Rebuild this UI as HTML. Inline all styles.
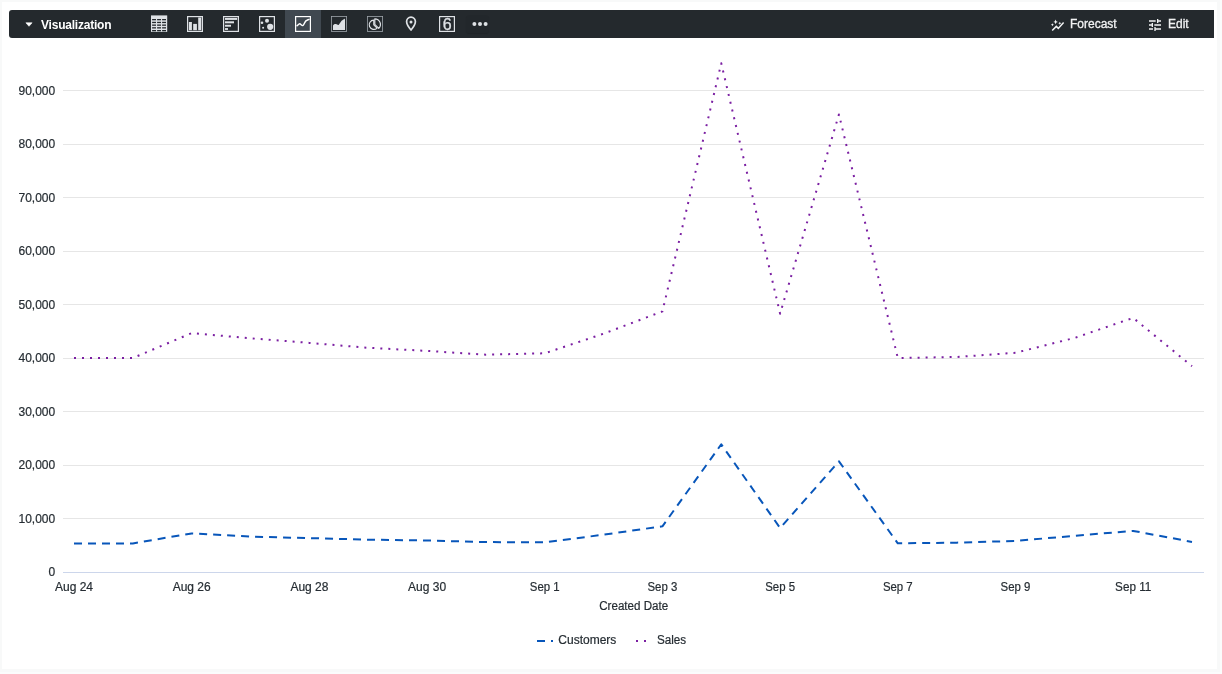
<!DOCTYPE html>
<html lang="en">
<head>
<meta charset="utf-8">
<title>Visualization</title>
<style>
html,body{margin:0;padding:0;}
body{width:1222px;height:674px;overflow:hidden;background:#f8f9f9;font-family:"Liberation Sans",sans-serif;position:relative;}
.edge-r{position:absolute;left:1220px;top:0;width:2px;height:674px;background:#fbfcfc;}
.edge-b{position:absolute;left:0;top:672px;width:1222px;height:2px;background:#fbfcfc;}
.panel{position:absolute;left:2px;top:2px;width:1215px;height:667px;background:#fff;}
.bar{position:absolute;left:9px;top:10px;width:1205px;height:28px;background:#24292d;border-radius:3px 0 0 3px;color:#fff;}
.title{position:absolute;left:32px;top:1px;height:28px;line-height:28px;font-size:12px;font-weight:bold;letter-spacing:-0.22px;color:#fff;white-space:nowrap;}
.caret{position:absolute;left:16px;top:12px;width:8px;height:5px;}
.ico{position:absolute;top:0;width:36px;height:28px;}
.ico svg{position:absolute;left:10px;top:6px;width:16px;height:16px;overflow:visible;}
.ico.on{background:#404850;}
.btn{position:absolute;top:0;height:28px;line-height:28px;font-size:12px;color:#f1f2f3;white-space:nowrap;-webkit-text-stroke:0.3px #f1f2f3;}
svg text{font-family:"Liberation Sans",sans-serif;}
</style>
</head>
<body>
<div class="edge-r"></div><div class="edge-b"></div>
<div class="panel"></div>
<div class="bar">
  <svg class="caret" viewBox="0 0 8 5"><path d="M0.9 0.8H7.1L4 4.3Z" fill="#fff" stroke="#fff" stroke-width="0.6" stroke-linejoin="round"/></svg>
  <div class="title">Visualization</div>
  <div class="ico" style="left:132px;"><svg viewBox="0 0 16 16"><rect x="0" y="-0.6" width="16.2" height="16.5" fill="#dee1e5"/><rect x="1.1" y="3.0" width="3.9" height="1.3" fill="#24292d"/><rect x="6.1" y="3.0" width="3.9" height="1.3" fill="#24292d"/><rect x="11.1" y="3.0" width="3.9" height="1.3" fill="#24292d"/><rect x="1.1" y="5.8" width="3.9" height="1.3" fill="#24292d"/><rect x="6.1" y="5.8" width="3.9" height="1.3" fill="#24292d"/><rect x="11.1" y="5.8" width="3.9" height="1.3" fill="#24292d"/><rect x="1.1" y="8.5" width="3.9" height="1.3" fill="#24292d"/><rect x="6.1" y="8.5" width="3.9" height="1.3" fill="#24292d"/><rect x="11.1" y="8.5" width="3.9" height="1.3" fill="#24292d"/><rect x="1.1" y="11.2" width="3.9" height="1.3" fill="#24292d"/><rect x="6.1" y="11.2" width="3.9" height="1.3" fill="#24292d"/><rect x="11.1" y="11.2" width="3.9" height="1.3" fill="#24292d"/><rect x="1.1" y="14.0" width="3.9" height="1.3" fill="#24292d"/><rect x="6.1" y="14.0" width="3.9" height="1.3" fill="#24292d"/><rect x="11.1" y="14.0" width="3.9" height="1.3" fill="#24292d"/></svg></div>
<div class="ico" style="left:168px;"><svg viewBox="0 0 16 16"><rect x="0.6" y="0.6" width="14.8" height="14.8" fill="none" stroke="#dee1e5" stroke-width="1.2"/><rect x="1.9" y="6" width="3" height="8.2" fill="#dee1e5"/><rect x="6.2" y="7.9" width="3.7" height="6.3" fill="#dee1e5"/><rect x="11.2" y="1.5" width="3" height="12.7" fill="#dee1e5"/></svg></div>
<div class="ico" style="left:204px;"><svg viewBox="0 0 16 16"><rect x="0.6" y="0.6" width="14.8" height="14.8" fill="none" stroke="#dee1e5" stroke-width="1.2"/><rect x="2" y="1.9" width="12.2" height="2" fill="#dee1e5"/><rect x="2" y="5.3" width="9" height="2" fill="#dee1e5"/><rect x="2" y="8.8" width="6" height="1.9" fill="#dee1e5"/><rect x="2" y="12.1" width="3" height="1.8" fill="#dee1e5"/></svg></div>
<div class="ico" style="left:240px;"><svg viewBox="0 0 16 16"><rect x="0.6" y="0.6" width="14.8" height="14.8" fill="none" stroke="#dee1e5" stroke-width="1.2"/><circle cx="11.2" cy="10.8" r="3.1" fill="#dee1e5"/><circle cx="8" cy="4.8" r="2" fill="#dee1e5"/><circle cx="3" cy="6.7" r="1.3" fill="#dee1e5"/><circle cx="4.1" cy="11.7" r="1" fill="#dee1e5"/></svg></div>
<div class="ico on" style="left:276px;"><svg viewBox="0 0 16 16"><rect x="0.6" y="0.6" width="14.8" height="14.8" fill="none" stroke="#fff" stroke-width="1.2"/><path d="M2.1 9.7C3 9 3.8 7.9 4.7 7.8S6.8 9.9 7.8 9.6S9.8 5.8 10.9 4.9S13 3.8 14 3.3" fill="none" stroke="#fff" stroke-width="1.5" stroke-linecap="round" stroke-linejoin="round"/></svg></div>
<div class="ico" style="left:312px;"><svg viewBox="0 0 16 16"><rect x="0.4" y="0.4" width="15.2" height="15.2" fill="none" stroke="#9ea4aa" stroke-width="0.8"/><path d="M2 14V9.6C3 8.3 4 7.9 5 8.1S6.8 9.3 7.6 8.9L10.6 4.8C11.6 3.6 13 3.4 14 2.4V14Z" fill="#dee1e5"/></svg></div>
<div class="ico" style="left:348px;"><svg viewBox="0 0 16 16"><rect x="0.4" y="0.4" width="15.2" height="15.2" fill="none" stroke="#9ea4aa" stroke-width="0.8"/><path d="M6.80 8.80V4.20A4.60 4.60 0 1 0 10.05 12.05Z" fill="none" stroke="#dee1e5" stroke-width="1.2" stroke-linejoin="round"/><path d="M7.80 8.40V2.80A5.60 5.60 0 0 1 11.76 12.36Z" fill="none" stroke="#dee1e5" stroke-width="1.2" stroke-linejoin="round"/></svg></div>
<div class="ico" style="left:384px;"><svg viewBox="0 0 16 16"><path d="M8 1.2C5.3 1.2 3.6 3.2 3.6 5.6C3.6 8.6 6.6 12.4 8 14C9.4 12.4 12.4 8.6 12.4 5.6C12.4 3.2 10.7 1.2 8 1.2Z" fill="none" stroke="#dee1e5" stroke-width="1.7" stroke-linejoin="round"/><circle cx="8" cy="5.9" r="1.5" fill="#dee1e5"/></svg></div>
<div class="ico" style="left:420px;"><svg viewBox="0 0 16 16"><rect x="0.6" y="0.6" width="14.8" height="14.8" fill="none" stroke="#dee1e5" stroke-width="1.2"/><text x="8.1" y="13.8" text-anchor="middle" font-size="16" fill="#dee1e5" stroke="#dee1e5" stroke-width="0.3">6</text></svg></div>
<div style="position:absolute;left:457px;top:5px;width:23px;height:18px;border-radius:3px;background:rgba(0,0,0,0.03);box-shadow:0 1px 1px rgba(0,0,0,0.12);"></div>
<svg style="position:absolute;left:460px;top:10px;width:22px;height:8px;" viewBox="0 0 22 8"><circle cx="5.4" cy="4" r="2" fill="#dee1e5"/><circle cx="11" cy="4" r="2" fill="#dee1e5"/><circle cx="16.6" cy="4" r="2" fill="#dee1e5"/></svg>
<svg style="position:absolute;left:1041px;top:9px;width:15px;height:13px;overflow:visible" viewBox="0 0 15 13"><path d="M2.2 11.6L6.3 7.4L8.3 9.4L13.6 3.6" fill="none" stroke="#f1f2f3" stroke-width="1.5" stroke-linejoin="miter"/><path d="M5.6 0.6L6.3 2.2L7.9 2.9L6.3 3.6L5.6 5.2L4.9 3.6L3.3 2.9L4.9 2.2Z" fill="#f1f2f3"/><path d="M2.4 4.3L2.9 5.3L3.9 5.8L2.9 6.3L2.4 7.3L1.9 6.3L0.9 5.8L1.9 5.3Z" fill="#f1f2f3"/><path d="M9.8 2.8L10.3 3.8L11.3 4.3L10.3 4.8L9.8 5.8L9.3 4.8L8.3 4.3L9.3 3.8Z" fill="#f1f2f3"/></svg>
<svg style="position:absolute;left:1138px;top:6.5px;width:16px;height:16px;" viewBox="0 0 24 24"><path fill="#f1f2f3" d="M3 17v2h6v-2H3zM3 5v2h10V5H3zm10 16v-2h8v-2h-8v-2h-2v6h2zM7 9v2H3v2h4v2h2V9H7zm14 4v-2H11v2h10zm-6-4h2V7h4V5h-4V3h-2v6z"/></svg>

  <div class="btn" style="left:1061px;">Forecast</div>
  <div class="btn" style="left:1159px;">Edit</div>
</div>
<svg width="1222" height="674" viewBox="0 0 1222 674" style="position:absolute;left:0;top:0;" font-size="12" fill="#262d33" stroke="#262d33" stroke-width="0.2">
<path d="M63 518.5H1204" stroke="#e6e6e6" stroke-width="1"/>
<path d="M63 465.5H1204" stroke="#e6e6e6" stroke-width="1"/>
<path d="M63 411.5H1204" stroke="#e6e6e6" stroke-width="1"/>
<path d="M63 358.5H1204" stroke="#e6e6e6" stroke-width="1"/>
<path d="M63 304.5H1204" stroke="#e6e6e6" stroke-width="1"/>
<path d="M63 251.5H1204" stroke="#e6e6e6" stroke-width="1"/>
<path d="M63 197.5H1204" stroke="#e6e6e6" stroke-width="1"/>
<path d="M63 144.5H1204" stroke="#e6e6e6" stroke-width="1"/>
<path d="M63 90.5H1204" stroke="#e6e6e6" stroke-width="1"/>
<path d="M63 572.5H1204" stroke="#ccd6eb" stroke-width="1"/>
<g>
<text x="55.2" y="576.1" text-anchor="end">0</text>
<text x="55.2" y="522.6" text-anchor="end">10,000</text>
<text x="55.2" y="469.1" text-anchor="end">20,000</text>
<text x="55.2" y="415.6" text-anchor="end">30,000</text>
<text x="55.2" y="362.1" text-anchor="end">40,000</text>
<text x="55.2" y="308.7" text-anchor="end">50,000</text>
<text x="55.2" y="255.2" text-anchor="end">60,000</text>
<text x="55.2" y="201.7" text-anchor="end">70,000</text>
<text x="55.2" y="148.2" text-anchor="end">80,000</text>
<text x="55.2" y="94.7" text-anchor="end">90,000</text>
</g>
<g>
<text x="74.0" y="591" text-anchor="middle">Aug 24</text>
<text x="191.7" y="591" text-anchor="middle">Aug 26</text>
<text x="309.4" y="591" text-anchor="middle">Aug 28</text>
<text x="427.1" y="591" text-anchor="middle">Aug 30</text>
<text x="544.7" y="591" text-anchor="middle" textLength="29.8" lengthAdjust="spacingAndGlyphs">Sep 1</text>
<text x="662.4" y="591" text-anchor="middle" textLength="29.8" lengthAdjust="spacingAndGlyphs">Sep 3</text>
<text x="780.1" y="591" text-anchor="middle" textLength="29.8" lengthAdjust="spacingAndGlyphs">Sep 5</text>
<text x="897.8" y="591" text-anchor="middle" textLength="29.8" lengthAdjust="spacingAndGlyphs">Sep 7</text>
<text x="1015.5" y="591" text-anchor="middle" textLength="29.8" lengthAdjust="spacingAndGlyphs">Sep 9</text>
<text x="1133.2" y="591" text-anchor="middle" textLength="36.2" lengthAdjust="spacingAndGlyphs">Sep 11</text>
</g>
<text x="633.7" y="609.8" text-anchor="middle" textLength="69" lengthAdjust="spacingAndGlyphs">Created Date</text>
<path d="M74.00 543.40 L132.84 543.40 L191.68 533.40 L250.53 536.60 L309.37 538.10 L368.21 539.70 L427.05 540.50 L485.89 542.10 L544.74 542.30 L603.58 534.70 L662.42 526.30 L721.26 444.30 L780.11 528.00 L838.95 461.30 L897.79 543.30 L956.63 542.65 L1015.47 540.95 L1074.32 535.80 L1133.16 530.90 L1192.00 541.90" fill="none" stroke="#0856ba" stroke-width="2" stroke-dasharray="8,6" stroke-linejoin="round"/>
<path d="M74.00 358.00 L132.84 358.00 L191.68 333.10 L250.53 338.30 L309.37 342.90 L368.21 347.80 L427.05 350.90 L485.89 354.70 L544.74 353.30 L603.58 333.70 L662.42 311.40 L721.26 63.30 L780.11 313.70 L838.95 114.40 L897.79 358.00 L956.63 357.00 L1015.47 352.80 L1074.32 338.00 L1133.16 317.90 L1192.00 366.20" fill="none" stroke="#7b1fa2" stroke-width="2" stroke-dasharray="2,6" stroke-linejoin="round"/>
<path d="M537 641H553" stroke="#0856ba" stroke-width="2" stroke-dasharray="8,6"/>
<text x="558.3" y="644">Customers</text>
<path d="M636 641H652" stroke="#7b1fa2" stroke-width="2" stroke-dasharray="2,6"/>
<text x="656.9" y="644" textLength="29.2" lengthAdjust="spacingAndGlyphs">Sales</text>
</svg>
</body>
</html>
